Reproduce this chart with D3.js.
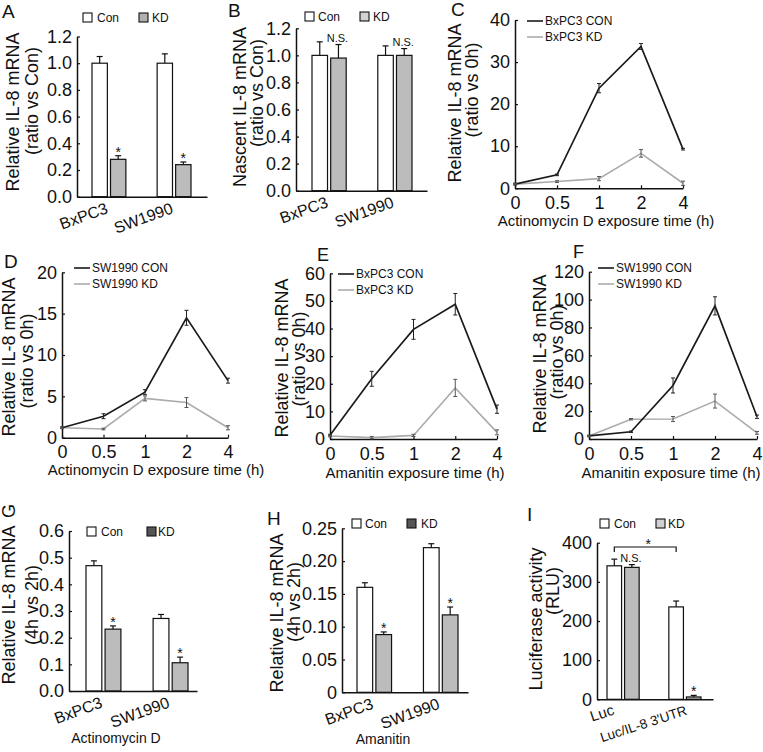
<!DOCTYPE html>
<html>
<head>
<meta charset="utf-8">
<script src="https://cdn.jsdelivr.net/npm/d3@7/dist/d3.min.js"></script>
<style>
  html, body { margin: 0; padding: 0; background: #fff; }
  svg { display: block; }
</style>
</head>
<body>
<svg id="chart" width="763" height="752"></svg>
<script>
// ---------------- DATA ----------------
const cellLines = ["BxPC3", "SW1990"];
const lucConstructs = ["Luc", "Luc/IL-8 3'UTR"];
const seriesNames = ["Con", "KD"];
const timeLabels = ["0", "0.5", "1", "2", "4"];

// A: Relative IL-8 mRNA (ratio vs Con)
const aCon = [1.0, 1.0], aConErr = [0.05, 0.07];
const aKD = [0.28, 0.24], aKDErr = [0.027, 0.02];
// B: Nascent IL-8 mRNA
const bCon = [1.0, 1.0], bConErr = [0.10, 0.07];
const bKD = [0.98, 1.0], bKDErr = [0.10, 0.05];
// C: BxPC3, Actinomycin D
const cCon = [1.0, 3.2, 23.8, 33.7, 9.3], cConErr = [0.2, 0.2, 1.1, 0.7, 0.2];
const cKD = [1.0, 1.6, 2.3, 8.3, 1.2], cKDErr = [0.2, 0.2, 0.5, 0.9, 0.5];
// D: SW1990, Actinomycin D
const dCon = [1.2, 2.6, 5.5, 14.5, 6.9], dConErr = [0.1, 0.3, 0.3, 0.9, 0.3];
const dKD = [1.2, 1.05, 4.75, 4.25, 1.2], dKDErr = [0.1, 0.1, 0.3, 0.6, 0.25];
// E: BxPC3, Amanitin
const eCon = [1.4, 21.8, 39.7, 48.8, 10.8], eConErr = [0.3, 2.7, 3.6, 3.9, 1.5];
const eKD = [1.1, 0.5, 1.3, 18.5, 2.4], eKDErr = [0.3, 0.4, 0.4, 3.1, 0.9];
// F: SW1990, Amanitin
const fCon = [2.2, 5.2, 38.4, 95.5, 16], fConErr = [0.5, 0.5, 5.4, 6.5, 1.2];
const fKD = [2.2, 14.2, 14.3, 27.2, 4.4], fKDErr = [0.5, 0.5, 1.8, 5.0, 1.0];
// G: Relative IL-8 mRNA (4h vs 2h), Actinomycin D
const gCon = [0.47, 0.272], gConErr = [0.018, 0.015];
const gKD = [0.232, 0.106], gKDErr = [0.012, 0.021];
// H: Amanitin
const hCon = [0.160, 0.2205], hConErr = [0.007, 0.006];
const hKD = [0.088, 0.118], hKDErr = [0.004, 0.012];
// I: Luciferase activity (RLU)
const iCon = [341, 236], iConErr = [17, 15];
const iKD = [337, 6], iKDErr = [7, 4];

// tick values
const ticksRatio = [0, 0.2, 0.4, 0.6, 0.8, 1.0, 1.2];
const ticksC = [0, 10, 20, 30, 40];
const ticksD = [0, 5, 10, 15, 20];
const ticksE = [0, 10, 20, 30, 40, 50, 60];
const ticksF = [0, 20, 40, 60, 80, 100, 120];
const ticksG = [0, 0.1, 0.2, 0.3, 0.4, 0.5, 0.6];
const ticksH = [0, 0.05, 0.10, 0.15, 0.20, 0.25];
const ticksI = [0, 100, 200, 300, 400];

// ---------------- DRAWING ----------------
const FONT = "'Liberation Sans', Arial, Helvetica, sans-serif";
const svg = d3.select("#chart");
const KD_BAR = "#bcbcbc";
const CON_LINE = "#1a1a1a";
const KD_LINE = "#ababab";

function styleAxis(g, size) {
  g.selectAll("path.domain").attr("stroke", "#111").attr("stroke-width", 1.5);
  g.selectAll(".tick line").attr("stroke", "#111").attr("stroke-width", 1.2);
  g.selectAll("text").attr("font-family", FONT).attr("font-size", size).attr("fill", "#111");
  g.attr("font-family", FONT);
}

function txt(x, y, s, size, opts = {}) {
  const t = svg.append("text")
    .attr("x", x).attr("y", y).text(s)
    .attr("font-family", FONT).attr("font-size", size).attr("fill", "#111");
  if (opts.anchor) t.attr("text-anchor", opts.anchor);
  if (opts.baseline) t.attr("dominant-baseline", opts.baseline);
  if (opts.rotate !== undefined) t.attr("transform", `rotate(${opts.rotate},${x},${y})`);
  return t;
}

function yTitle(lines) {
  lines.forEach(l => txt(l.x, l.y, l.text, 18, { anchor: "middle", baseline: "central", rotate: -90 }));
}

function barPanel(p) {
  const y = d3.scaleLinear().domain([0, p.yMax]).range([p.y0, p.y1]);
  const xg = d3.scaleBand().domain(p.groups).range([p.g0, p.g1]).paddingInner(0.48);
  const xs = d3.scaleBand().domain(seriesNames).range([0, xg.bandwidth()]).paddingInner(0.17);
  const series = [
    { name: "Con", vals: p.con, errs: p.conErr, fill: "#fff" },
    { name: "KD", vals: p.kd, errs: p.kdErr, fill: KD_BAR }
  ];
  const g = svg.append("g");
  series.forEach(s => {
    p.groups.forEach((grp, i) => {
      const bx = xg(grp) + xs(s.name);
      const bw = xs.bandwidth();
      const cx = bx + bw / 2;
      const v = s.vals[i], e = s.errs[i];
      g.append("line").attr("x1", cx).attr("x2", cx).attr("y1", y(v)).attr("y2", y(v + e))
        .attr("stroke", "#111").attr("stroke-width", 1.2);
      g.append("line").attr("x1", cx - 3).attr("x2", cx + 3).attr("y1", y(v + e)).attr("y2", y(v + e))
        .attr("stroke", "#111").attr("stroke-width", 1.2);
      g.append("rect").attr("x", bx).attr("y", y(v)).attr("width", bw).attr("height", p.y0 - y(v))
        .attr("fill", s.fill).attr("stroke", "#111").attr("stroke-width", 1.2);
      if (s.name === "KD" && p.marks && p.marks[i]) {
        const m = p.marks[i];
        if (m === "*") txt(cx, y(v + e) + 1, "*", 14, { anchor: "middle" });
        else txt(cx - 1, y(v + e) - 2.5, m, 11, { anchor: "middle" });
      }
    });
  });
  // axes
  const ya = svg.append("g").attr("transform", `translate(${p.x0},0)`)
    .call(d3.axisLeft(y).tickValues(p.ticks).tickFormat(p.fmt).tickSizeInner(-3).tickSizeOuter(0).tickPadding(5));
  styleAxis(ya, 18);
  const xa = svg.append("g").attr("transform", `translate(0,${p.y0})`)
    .call(d3.axisBottom(d3.scaleLinear().range([p.x0, p.x1])).tickValues([]).tickSizeOuter(0));
  styleAxis(xa, 16);
  // category labels
  p.groups.forEach((grp, i) => {
    const cx = xg(grp) + xg.bandwidth() / 2 + (p.labelShift ? p.labelShift[i] : 0);
    const fs = p.labelSize ? p.labelSize[i] : 16;
    txt(cx, p.y0 + (p.labelDy || 16), grp, fs, { anchor: "end", rotate: p.labelRot || -20 });
  });
  // legend
  const lg = p.legend;
  [[lg.conX, "#fff", "Con", lg.conT], [lg.kdX, lg.kdFill, "KD", lg.kdT]].forEach(([bx, fill, label, tx]) => {
    svg.append("rect").attr("x", bx).attr("y", lg.y).attr("width", 9).attr("height", 9)
      .attr("fill", fill).attr("stroke", "#111").attr("stroke-width", 1.1);
    txt(tx, lg.y + 5, label, 12, { baseline: "central" });
  });
  return { y, xg, xs };
}

function linePanel(p) {
  const x = d3.scalePoint().domain(timeLabels).range([p.x0, p.x1]);
  const y = d3.scaleLinear().domain([0, p.yMax]).range([p.y0, p.y1]);
  const line = d3.line().x((d, i) => x(timeLabels[i])).y(d => y(d));
  const series = [
    { vals: p.con, errs: p.conErr, color: CON_LINE, w: 1.7, ecol: "#222" },
    { vals: p.kd, errs: p.kdErr, color: KD_LINE, w: 1.6, ecol: "#555" }
  ];
  const ya = svg.append("g").attr("transform", `translate(${p.x0},0)`)
    .call(d3.axisLeft(y).tickValues(p.ticks).tickFormat(d3.format("d")).tickSizeInner(-3).tickSizeOuter(0).tickPadding(5));
  styleAxis(ya, 18);
  const xa = svg.append("g").attr("transform", `translate(0,${p.y0})`)
    .call(d3.axisBottom(x).tickSizeInner(-3).tickSizeOuter(0).tickPadding(8));
  styleAxis(xa, 18);
  series.slice().reverse().forEach(s => {
    svg.append("path").datum(s.vals).attr("d", line).attr("fill", "none")
      .attr("stroke", s.color).attr("stroke-width", s.w).attr("stroke-linejoin", "miter");
  });
  series.forEach(s => {
    s.vals.forEach((v, i) => {
      const cx = x(timeLabels[i]), e = s.errs[i];
      svg.append("line").attr("x1", cx).attr("x2", cx).attr("y1", y(v - e)).attr("y2", y(v + e))
        .attr("stroke", s.ecol).attr("stroke-width", 1);
      [v - e, v + e].forEach(t => svg.append("line").attr("x1", cx - 2).attr("x2", cx + 2)
        .attr("y1", y(t)).attr("y2", y(t)).attr("stroke", s.ecol).attr("stroke-width", 1));
    });
  });
  // legend
  const lg = p.legend;
  [[lg.y, CON_LINE, p.names[0]], [lg.y + 16, KD_LINE, p.names[1]]].forEach(([ly, col, name]) => {
    svg.append("line").attr("x1", lg.x).attr("x2", lg.x + 16).attr("y1", ly).attr("y2", ly)
      .attr("stroke", col).attr("stroke-width", 1.6);
    txt(lg.x + 18, ly, name, 12, { baseline: "central" });
  });
  txt(p.titleX, p.titleY, p.title, 15, { anchor: "middle" });
}

const fmt1 = d3.format(".1f");
const fmtH = d => d === 0 ? "0" : d3.format(".2f")(d);

// Panel A
barPanel({ groups: cellLines, con: aCon, conErr: aConErr, kd: aKD, kdErr: aKDErr, marks: ["*", "*"],
  yMax: 1.2, ticks: ticksRatio, fmt: fmt1, x0: 77, x1: 207, y0: 196.7, y1: 36.5, g0: 92, g1: 191,
  legend: { y: 13, conX: 83, conT: 97, kdX: 139, kdFill: "#b0b0b0", kdT: 152 } });
yTitle([{ text: "Relative IL-8 mRNA", x: 13, y: 112 }, { text: "(ratio vs Con)", x: 32, y: 101 }]);
txt(2, 18, "A", 19);

// Panel B
barPanel({ groups: cellLines, con: bCon, conErr: bConErr, kd: bKD, kdErr: bKDErr, marks: ["N.S.", "N.S."],
  yMax: 1.2, ticks: ticksRatio, fmt: fmt1, x0: 296, x1: 427, y0: 190.7, y1: 28.3, g0: 312, g1: 412,
  legend: { y: 12, conX: 305, conT: 318, kdX: 360, kdFill: "#d2d2d2", kdT: 373 } });
yTitle([{ text: "Nascent IL-8 mRNA", x: 240, y: 107 }, { text: "(ratio vs Con)", x: 257, y: 93 }]);
txt(228, 17, "B", 19);

// Panel C
linePanel({ con: cCon, conErr: cConErr, kd: cKD, kdErr: cKDErr, names: ["BxPC3 CON", "BxPC3 KD"],
  yMax: 40, ticks: ticksC, x0: 515, x1: 683, y0: 188.3, y1: 20,
  legend: { x: 527, y: 21 }, title: "Actinomycin D exposure time (h)", titleX: 606, titleY: 226 });
yTitle([{ text: "Relative IL-8 mRNA", x: 455, y: 103 }, { text: "(ratio vs 0h)", x: 472, y: 90 }]);
txt(451, 16, "C", 19);

// Panel D
linePanel({ con: dCon, conErr: dConErr, kd: dKD, kdErr: dKDErr, names: ["SW1990 CON", "SW1990 KD"],
  yMax: 20, ticks: ticksD, x0: 62, x1: 228, y0: 437.7, y1: 272.3,
  legend: { x: 74, y: 268 }, title: "Actinomycin D exposure time (h)", titleX: 156, titleY: 475 });
yTitle([{ text: "Relative IL-8 mRNA", x: 9, y: 357 }, { text: "(ratio vs 0h)", x: 27, y: 361 }]);
txt(4, 268, "D", 19);

// Panel E
linePanel({ con: eCon, conErr: eConErr, kd: eKD, kdErr: eKDErr, names: ["BxPC3 CON", "BxPC3 KD"],
  yMax: 60, ticks: ticksE, x0: 330, x1: 497, y0: 439, y1: 273.3,
  legend: { x: 338, y: 274 }, title: "Amanitin exposure time (h)", titleX: 415, titleY: 478 });
yTitle([{ text: "Relative IL-8 mRNA", x: 282, y: 358 }, { text: "(ratio vs 0h)", x: 299, y: 359 }]);
txt(317, 261, "E", 18);

// Panel F
linePanel({ con: fCon, conErr: fConErr, kd: fKD, kdErr: fKDErr, names: ["SW1990 CON", "SW1990 KD"],
  yMax: 120, ticks: ticksF, x0: 589, x1: 757, y0: 439, y1: 271.7,
  legend: { x: 598, y: 268 }, title: "Amanitin exposure time (h)", titleX: 671, titleY: 478 });
yTitle([{ text: "Relative IL-8 mRNA", x: 540, y: 354 }, { text: "(ratio vs 0h)", x: 557, y: 352 }]);
txt(573, 258, "F", 18);

// Panel G
barPanel({ groups: cellLines, con: gCon, conErr: gConErr, kd: gKD, kdErr: gKDErr, marks: ["*", "*"],
  yMax: 0.6, ticks: ticksG, fmt: fmt1, x0: 69, x1: 197, y0: 691, y1: 531, g0: 86, g1: 188,
  legend: { y: 527, conX: 87, conT: 101, kdX: 147, kdFill: "#555555", kdT: 158 } });
yTitle([{ text: "Relative IL-8 mRNA", x: 9, y: 605 }, { text: "(4h vs 2h)", x: 32, y: 605 }]);
txt(9, 511, "G", 18, { anchor: "middle", baseline: "central", rotate: -90 });
txt(116, 743, "Actinomycin D", 14, { anchor: "middle" });

// Panel H
barPanel({ groups: cellLines, con: hCon, conErr: hConErr, kd: hKD, kdErr: hKDErr, marks: ["*", "*"],
  yMax: 0.25, ticks: ticksH, fmt: fmtH, x0: 342, x1: 468, y0: 692.3, y1: 528.3, g0: 357, g1: 458,
  legend: { y: 519, conX: 352, conT: 365, kdX: 407, kdFill: "#555555", kdT: 421 } });
yTitle([{ text: "Relative IL-8 mRNA", x: 277, y: 613 }, { text: "(4h vs 2h)", x: 294, y: 602 }]);
txt(267, 525, "H", 19);
txt(383, 744, "Amanitin", 14, { anchor: "middle" });

// Panel I
const iScales = barPanel({ groups: lucConstructs, con: iCon, conErr: iConErr, kd: iKD, kdErr: iKDErr, marks: ["N.S.", "*"],
  yMax: 400, ticks: ticksI, fmt: d3.format("d"), x0: 597, x1: 713, y0: 699.3, y1: 542.7, g0: 607, g1: 701,
  labelShift: [-8, 3], labelSize: [15, 13.5], labelRot: -18, labelDy: 15,
  legend: { y: 519, conX: 600, conT: 614, kdX: 656, kdFill: "#d0d0d0", kdT: 668 } });
yTitle([{ text: "Luciferase activity", x: 536, y: 619 }, { text: "(RLU)", x: 553, y: 591 }]);
txt(527, 521, "I", 19);
// significance bracket between Con bars of the two constructs
{
  const { xg, xs } = iScales;
  const bx1 = xg(lucConstructs[0]) + xs("Con") + xs.bandwidth() / 2;
  const bx2 = xg(lucConstructs[1]) + xs("Con") + xs.bandwidth() / 2;
  const by = 547;
  svg.append("path").attr("d", `M${bx1},${by + 5}V${by}H${bx2}V${by + 5}`)
    .attr("fill", "none").attr("stroke", "#111").attr("stroke-width", 1.2);
  txt((bx1 + bx2) / 2 + 3, by + 2, "*", 14, { anchor: "middle" });
}
</script>
</body>
</html>
